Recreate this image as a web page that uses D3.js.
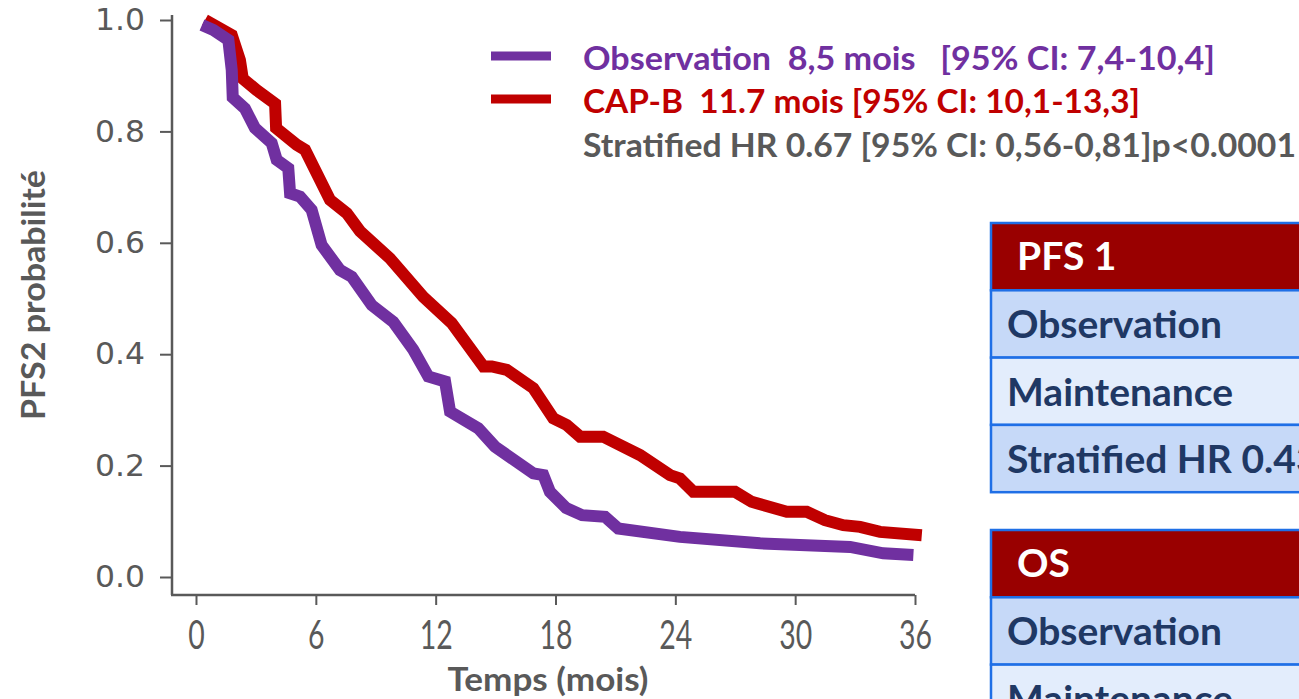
<!DOCTYPE html>
<html>
<head>
<meta charset="utf-8">
<script src="https://cdnjs.cloudflare.com/ajax/libs/d3/7.8.5/d3.min.js"></script>
<style>
  body { margin: 0; background: #fff; overflow: hidden; }
  text { white-space: pre; }
</style>
</head>
<body>
<svg id="chart"></svg>
<script>
// survival curves (time in months, probability)
var obsT = [0.3, 0.87, 1.62, 1.79, 1.84, 2.45, 2.95, 3.79, 4.04, 4.62, 4.71, 5.21, 5.79, 6.29, 7.21, 7.80, 8.80, 9.88, 10.88, 11.63, 12.47, 12.72, 14.13, 14.97, 16.89, 17.39, 17.72, 18.53, 19.33, 20.48, 21.14, 24.23, 28.24, 32.75, 34.41, 35.92];
var obsP = [0.991, 0.982, 0.964, 0.910, 0.861, 0.841, 0.806, 0.779, 0.749, 0.734, 0.689, 0.683, 0.659, 0.596, 0.551, 0.539, 0.488, 0.458, 0.408, 0.360, 0.351, 0.297, 0.267, 0.234, 0.186, 0.183, 0.153, 0.124, 0.111, 0.108, 0.087, 0.072, 0.0605, 0.054, 0.0425, 0.0395];

var capT = [0.45, 1.79, 2.20, 2.34, 3.04, 3.96, 4.01, 5.04, 5.46, 6.71, 7.55, 8.21, 9.71, 11.38, 12.80, 14.39, 14.81, 15.56, 16.89, 17.89, 18.56, 19.23, 20.39, 22.23, 23.73, 24.23, 24.90, 26.99, 27.82, 29.58, 30.58, 31.49, 32.41, 33.25, 34.25, 36.34];
var capP = [1.0, 0.973, 0.928, 0.895, 0.874, 0.850, 0.806, 0.776, 0.767, 0.677, 0.653, 0.621, 0.572, 0.503, 0.456, 0.378, 0.378, 0.372, 0.339, 0.285, 0.273, 0.252, 0.252, 0.219, 0.183, 0.177, 0.153, 0.153, 0.135, 0.117, 0.117, 0.102, 0.093, 0.090, 0.081, 0.075];

var xTicks = [0, 6, 12, 18, 24, 30, 36];
var yTicks = [0, 0.2, 0.4, 0.6, 0.8, 1.0];

var legendText = [
    "Observation  8,5 mois   [95% CI: 7,4-10,4]",
    "CAP-B  11.7 mois [95% CI: 10,1-13,3]",
    "Stratified HR 0.67 [95% CI: 0,56-0,81]p<0.0001"
];
var pfsTitle = "PFS 1";
var pfsRows = ["Observation", "Maintenance", "Stratified HR 0.43"];
var osTitle = "OS";
var osRows = ["Observation", "Maintenance"];

var width = 1299, height = 699;
var purple = "#7030A0", red = "#C00000", grey = "#595959";

var svg = d3.select("#chart")
    .attr("width", width)
    .attr("height", height);

var x = d3.scaleLinear().domain([0, 36]).range([196, 915]);
var y = d3.scaleLinear().domain([0, 1]).range([577, 20]);
var axisY = 595;

function fit(sel, target) {
    var w = sel.node().getComputedTextLength();
    sel.attr("textLength", target).attr("lengthAdjust", "spacingAndGlyphs");
    return target / w;
}

// axes
var yAxis = svg.append("g")
    .attr("transform", "translate(172,0)")
    .call(d3.axisLeft(y).tickValues(yTicks).tickFormat(d3.format(".1f")).tickSize(12).tickPadding(15));
yAxis.select(".domain").remove();
yAxis.selectAll("line").attr("stroke", grey).attr("stroke-width", 2);
yAxis.selectAll("text")
    .attr("fill", grey)
    .attr("font-family", null)
    .style("font-family", "'DejaVu Sans', Verdana, sans-serif")
    .style("font-size", "30px")
    .each(function() { fit(d3.select(this), 50); });

var xAxis = svg.append("g")
    .attr("transform", "translate(0," + axisY + ")")
    .call(d3.axisBottom(x).tickValues(xTicks).tickSize(10).tickPadding(16));
xAxis.select(".domain").remove();
xAxis.selectAll("line").attr("stroke", grey).attr("stroke-width", 2);
xAxis.selectAll("text")
    .attr("fill", grey)
    .style("font-family", "Lato, sans-serif")
    .style("font-weight", 400)
    .style("font-size", "40px")
    .each(function(d) {
        var n = String(d).length;
        d3.select(this).attr("textLength", n * 16.5).attr("lengthAdjust", "spacingAndGlyphs");
    });

svg.append("line")
    .attr("x1", 172).attr("x2", 172)
    .attr("y1", y(1) - 5).attr("y2", axisY)
    .attr("stroke", grey).attr("stroke-width", 2.5);
svg.append("line")
    .attr("x1", 171).attr("x2", x(36))
    .attr("y1", axisY).attr("y2", axisY)
    .attr("stroke", grey).attr("stroke-width", 2.5);

// axis titles
var xt = svg.append("text")
    .attr("x", 548).attr("y", 691)
    .attr("text-anchor", "middle")
    .attr("fill", grey)
    .style("font-family", "Lato, sans-serif")
    .style("font-weight", 700)
    .style("font-size", "32px")
    .text("Temps (mois)");
fit(xt, 201);

var yt = svg.append("text")
    .attr("transform", "translate(45,295) rotate(-90)")
    .attr("text-anchor", "middle")
    .attr("fill", grey)
    .style("font-family", "Lato, sans-serif")
    .style("font-weight", 700)
    .style("font-size", "33px")
    .text("PFS2 probabilité");
fit(yt, 250);

// curves
var line = d3.line()
    .x(function(d) { return x(d[0]); })
    .y(function(d) { return y(d[1]); });

var capData = capT.map(function(t, i) { return [t, capP[i]]; });
var obsData = obsT.map(function(t, i) { return [t, obsP[i]]; });

svg.append("path")
    .datum(capData)
    .attr("d", line)
    .attr("fill", "none")
    .attr("stroke", red)
    .attr("stroke-width", 12)
    .attr("stroke-linejoin", "miter")
    .attr("stroke-miterlimit", 2);

svg.append("path")
    .datum(obsData)
    .attr("d", line)
    .attr("fill", "none")
    .attr("stroke", purple)
    .attr("stroke-width", 12)
    .attr("stroke-linejoin", "miter")
    .attr("stroke-miterlimit", 2);

// legend
var legColors = [purple, red, grey];
var legBase = [70, 113, 157];
var legWidth = [632, 557, 713];
[0, 1].forEach(function(i) {
    svg.append("line")
        .attr("x1", 491).attr("x2", 551)
        .attr("y1", legBase[i] - 14).attr("y2", legBase[i] - 14)
        .attr("stroke", legColors[i])
        .attr("stroke-width", 9);
});
legendText.forEach(function(s, i) {
    var t = svg.append("text")
        .attr("x", 583).attr("y", legBase[i])
        .attr("fill", legColors[i])
        .style("font-family", "Lato, sans-serif")
        .style("font-weight", 700)
        .style("font-size", "32px")
        .text(s);
    fit(t, legWidth[i]);
});

// tables on the right, running off the edge
var blue = "#1F6FE6";
function table(top, title, rows) {
    var g = svg.append("g");
    var left = 991, right = 1340, rowH = 67.3;
    var k = 1;
    g.append("rect")
        .attr("x", left).attr("y", top)
        .attr("width", right - left).attr("height", rowH)
        .attr("fill", "#990000")
        .attr("stroke", blue).attr("stroke-width", 2.5);
    rows.forEach(function(r, i) {
        g.append("rect")
            .attr("x", left).attr("y", top + rowH * (i + 1))
            .attr("width", right - left).attr("height", rowH)
            .attr("fill", i % 2 ? "#E3EDFC" : "#C6D9F8")
            .attr("stroke", blue).attr("stroke-width", 2.5);
    });
    var head = g.append("text")
        .attr("x", 1017).attr("y", top + 47)
        .attr("fill", "#fff")
        .style("font-family", "Lato, sans-serif")
        .style("font-weight", 700)
        .style("font-size", "38px")
        .text(title);
    rows.forEach(function(r, i) {
        var t = g.append("text")
            .attr("x", 1007).attr("y", top + rowH * (i + 1) + 48)
            .attr("fill", "#1F3864")
            .style("font-family", "Lato, sans-serif")
            .style("font-weight", 700)
            .style("font-size", "38px")
            .text(r);
        if (i === 0) {
            k = fit(t, 215);
        } else {
            t.attr("textLength", t.node().getComputedTextLength() * k)
                .attr("lengthAdjust", "spacingAndGlyphs");
        }
    });
    head.attr("textLength", head.node().getComputedTextLength() * k)
        .attr("lengthAdjust", "spacingAndGlyphs");
}
table(223, pfsTitle, pfsRows);
table(530, osTitle, osRows);
</script>
</body>
</html>
